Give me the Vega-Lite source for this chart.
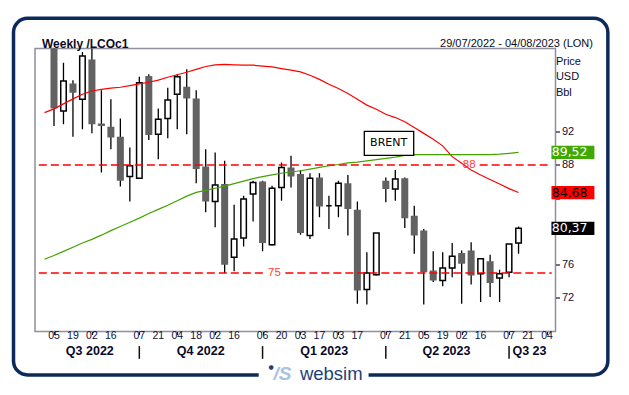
{
  "$schema": "https://vega.github.io/schema/vega-lite/v6.json",
  "width": 520.5,
  "height": 283,
  "autosize": {"type": "none"},
  "padding": {"left": 35, "top": 48.5, "right": 73.5, "bottom": 63.5},
  "background": "white",
  "config": {
    "view": {"stroke": "#8f8fa0", "strokeWidth": 1.5},
    "font": "Liberation Sans",
    "axis": {"labelOverlap": false}
  },
  "datasets": {
    "candles": [
      {"w":1,"date":"2022-08-05","open":103,"high":104,"low":92.7,"close":94.8},
      {"w":2,"date":"2022-08-12","open":94.5,"high":100.3,"low":92.9,"close":98.1},
      {"w":3,"date":"2022-08-19","open":97.8,"high":98.2,"low":91.4,"close":96.7},
      {"w":4,"date":"2022-08-26","open":95.9,"high":101.6,"low":92.3,"close":101.1},
      {"w":5,"date":"2022-09-02","open":100.7,"high":103,"low":91.8,"close":92.9},
      {"w":6,"date":"2022-09-09","open":93.0,"high":97.0,"low":87.1,"close":92.7},
      {"w":7,"date":"2022-09-16","open":92.6,"high":95.9,"low":89.9,"close":91.3},
      {"w":8,"date":"2022-09-23","open":91.4,"high":93.6,"low":85.4,"close":86.1},
      {"w":9,"date":"2022-09-30","open":86.6,"high":90.1,"low":83.6,"close":87.9},
      {"w":10,"date":"2022-10-07","open":86.4,"high":98.6,"low":86.3,"close":97.9},
      {"w":11,"date":"2022-10-14","open":98.7,"high":98.9,"low":91.0,"close":91.6},
      {"w":12,"date":"2022-10-21","open":91.7,"high":94.8,"low":88.7,"close":93.5},
      {"w":13,"date":"2022-10-28","open":93.6,"high":97.3,"low":91.2,"close":95.8},
      {"w":14,"date":"2022-11-04","open":96.5,"high":98.9,"low":92.3,"close":98.6},
      {"w":15,"date":"2022-11-11","open":97.4,"high":99.5,"low":91.7,"close":96.0},
      {"w":16,"date":"2022-11-18","open":96.0,"high":97.0,"low":85.8,"close":87.5},
      {"w":17,"date":"2022-11-25","open":87.8,"high":89.9,"low":82.3,"close":83.6},
      {"w":18,"date":"2022-12-02","open":83.6,"high":89.5,"low":80.5,"close":85.6},
      {"w":19,"date":"2022-12-09","open":85.7,"high":88.5,"low":75.0,"close":76.0},
      {"w":20,"date":"2022-12-16","open":76.9,"high":83.2,"low":75.2,"close":79.1},
      {"w":21,"date":"2022-12-23","open":79.2,"high":84.3,"low":78.2,"close":83.9},
      {"w":22,"date":"2022-12-30","open":84.5,"high":86.1,"low":81.2,"close":85.9},
      {"w":23,"date":"2023-01-06","open":86.0,"high":86.1,"low":77.6,"close":78.6},
      {"w":24,"date":"2023-01-13","open":78.4,"high":85.5,"low":78.3,"close":85.2},
      {"w":25,"date":"2023-01-20","open":85.3,"high":88.3,"low":83.7,"close":87.7},
      {"w":26,"date":"2023-01-27","open":87.7,"high":89.1,"low":85.3,"close":86.6},
      {"w":27,"date":"2023-02-03","open":86.9,"high":87.4,"low":79.6,"close":79.8},
      {"w":28,"date":"2023-02-10","open":79.5,"high":87.0,"low":79.1,"close":86.4},
      {"w":29,"date":"2023-02-17","open":86.5,"high":87.0,"low":81.7,"close":83.0},
      {"w":30,"date":"2023-02-24","open":83.1,"high":84.3,"low":80.3,"close":83.1},
      {"w":31,"date":"2023-03-03","open":83.1,"high":86.1,"low":81.7,"close":85.8},
      {"w":32,"date":"2023-03-10","open":85.8,"high":86.8,"low":79.5,"close":82.7},
      {"w":33,"date":"2023-03-17","open":82.6,"high":83.6,"low":71.3,"close":72.9},
      {"w":34,"date":"2023-03-24","open":73.0,"high":77.5,"low":71.2,"close":75.0},
      {"w":35,"date":"2023-03-31","open":74.8,"high":79.8,"low":74.7,"close":79.8},
      {"w":36,"date":"2023-04-07","open":86.1,"high":86.5,"low":83.5,"close":85.1},
      {"w":37,"date":"2023-04-14","open":85.1,"high":87.4,"low":83.7,"close":86.3},
      {"w":38,"date":"2023-04-21","open":86.4,"high":86.5,"low":80.4,"close":81.6},
      {"w":39,"date":"2023-04-28","open":81.9,"high":83.1,"low":77.3,"close":79.5},
      {"w":40,"date":"2023-05-05","open":80.1,"high":80.3,"low":71.2,"close":75.1},
      {"w":41,"date":"2023-05-12","open":75.3,"high":77.6,"low":73.9,"close":74.1},
      {"w":42,"date":"2023-05-19","open":74.1,"high":77.5,"low":73.4,"close":75.6},
      {"w":43,"date":"2023-05-26","open":75.6,"high":78.6,"low":74.5,"close":77.0},
      {"w":44,"date":"2023-06-02","open":77.4,"high":77.7,"low":71.3,"close":76.1},
      {"w":45,"date":"2023-06-09","open":77.7,"high":78.7,"low":73.6,"close":74.7},
      {"w":46,"date":"2023-06-16","open":74.9,"high":76.8,"low":71.5,"close":76.7},
      {"w":47,"date":"2023-06-23","open":76.4,"high":77.2,"low":72.1,"close":73.8},
      {"w":48,"date":"2023-06-30","open":74.4,"high":75.4,"low":71.5,"close":74.9},
      {"w":49,"date":"2023-07-07","open":75.1,"high":78.5,"low":74.5,"close":78.5},
      {"w":50,"date":"2023-07-14","open":78.6,"high":80.6,"low":77.3,"close":80.37}
    ],
    "ma": [
      {"w":0,"maFast":94.3,"maSlow":76.65},{"w":1,"maFast":94.75,"maSlow":77.1},{"w":2,"maFast":95.35,"maSlow":77.6},
      {"w":3,"maFast":95.95,"maSlow":78.1},{"w":4,"maFast":96.5,"maSlow":78.6},{"w":5,"maFast":96.9,"maSlow":79.05},
      {"w":6,"maFast":97.1,"maSlow":79.55},{"w":7,"maFast":97.25,"maSlow":80.1},{"w":8,"maFast":97.35,"maSlow":80.6},
      {"w":9,"maFast":97.55,"maSlow":81.1},{"w":10,"maFast":97.75,"maSlow":81.6},{"w":11,"maFast":97.95,"maSlow":82.15},
      {"w":12,"maFast":98.2,"maSlow":82.65},{"w":13,"maFast":98.55,"maSlow":83.15},{"w":14,"maFast":98.85,"maSlow":83.7},
      {"w":15,"maFast":99.15,"maSlow":84.25},{"w":16,"maFast":99.5,"maSlow":84.7},{"w":17,"maFast":99.85,"maSlow":84.95},
      {"w":18,"maFast":100.05,"maSlow":85.2},{"w":19,"maFast":100.1,"maSlow":85.45},{"w":20,"maFast":100.05,"maSlow":85.75},
      {"w":21,"maFast":100.0,"maSlow":86.05},{"w":22,"maFast":100.0,"maSlow":86.35},{"w":23,"maFast":99.9,"maSlow":86.6},
      {"w":24,"maFast":99.8,"maSlow":86.8},{"w":25,"maFast":99.6,"maSlow":87.0},{"w":26,"maFast":99.4,"maSlow":87.15},
      {"w":27,"maFast":99.2,"maSlow":87.3},{"w":28,"maFast":98.8,"maSlow":87.5},{"w":29,"maFast":98.3,"maSlow":87.7},
      {"w":30,"maFast":97.7,"maSlow":87.9},{"w":31,"maFast":97.2,"maSlow":88.05},{"w":32,"maFast":96.6,"maSlow":88.25},
      {"w":33,"maFast":95.9,"maSlow":88.35},{"w":34,"maFast":95.2,"maSlow":88.5},{"w":35,"maFast":94.7,"maSlow":88.65},
      {"w":36,"maFast":94.1,"maSlow":88.8},{"w":37,"maFast":93.7,"maSlow":88.95},{"w":38,"maFast":93.2,"maSlow":89.15},
      {"w":39,"maFast":92.5,"maSlow":89.25},{"w":40,"maFast":91.8,"maSlow":89.25},{"w":41,"maFast":91.1,"maSlow":89.25},
      {"w":42,"maFast":90.3,"maSlow":89.25},{"w":43,"maFast":89.0,"maSlow":89.25},{"w":44,"maFast":88.2,"maSlow":89.25},
      {"w":45,"maFast":87.4,"maSlow":89.25},{"w":46,"maFast":86.8,"maSlow":89.25},{"w":47,"maFast":86.25,"maSlow":89.25},
      {"w":48,"maFast":85.7,"maSlow":89.3},{"w":49,"maFast":85.15,"maSlow":89.4},{"w":50,"maFast":84.68,"maSlow":89.52}
    ],
    "xLabels": [
      {"w":1,"day":"05"},{"w":3,"day":"19"},{"w":5,"day":"02"},{"w":7,"day":"16"},
      {"w":10,"day":"07"},{"w":12,"day":"21"},{"w":14,"day":"04"},{"w":16,"day":"18"},{"w":18,"day":"02"},{"w":20,"day":"16"},
      {"w":23,"day":"06"},{"w":25,"day":"20"},{"w":27,"day":"03"},{"w":29,"day":"17"},{"w":31,"day":"03"},{"w":33,"day":"17"},
      {"w":36,"day":"07"},{"w":38,"day":"21"},{"w":40,"day":"05"},{"w":42,"day":"19"},{"w":44,"day":"02"},{"w":46,"day":"16"},
      {"w":49,"day":"07"},{"w":51,"day":"21"},{"w":53,"day":"04"}
    ],
    "levels": [
      {"price":88,"from":-0.6,"to":43.7},
      {"price":88,"from":45.9,"to":53.5},
      {"price":75,"from":-0.6,"to":23.1},
      {"price":75,"from":25.4,"to":53.5}
    ],
    "levelLabels": [
      {"price":88,"w":44.8,"text":"88"},
      {"price":75,"w":24.25,"text":"75"}
    ],
    "lastValues": [
      {"series":"maSlow","value":89.52,"label":"89,52"},
      {"series":"maFast","value":84.68,"label":"84,68"},
      {"series":"close","value":80.37,"label":"80,37"}
    ],
    "quarters": [
      {"q":"Q3 2022","mid":4.78},
      {"q":"Q4 2022","mid":16.47},
      {"q":"Q1 2023","mid":29.5},
      {"q":"Q2 2023","mid":42.4},
      {"q":"Q3 23","mid":51.15}
    ],
    "quarterStarts": [{"w":10},{"w":23},{"w":36},{"w":49}],
    "units": [
      {"text":"Price","y":100.42},
      {"text":"USD","y":98.56},
      {"text":"Bbl","y":96.7}
    ]
  },
  "layer": [
    {
      "data": {"values": [{}]},
      "mark": {"type": "rect", "fill": "white", "fillOpacity": 0, "stroke": "#0e2a5a", "strokeWidth": 3.5, "cornerRadius": 14},
      "encoding": {
        "x": {"datum": -3.27, "type": "quantitative"},
        "x2": {"datum": 59.42},
        "y": {"datum": 105.64, "type": "quantitative"},
        "y2": {"datum": 62.73}
      }
    },
    {
      "data": {"values": [{}]},
      "mark": {"type": "rect", "fill": "white", "stroke": null},
      "encoding": {
        "x": {"datum": 22.59, "type": "quantitative"},
        "x2": {"datum": 34.18},
        "y": {"datum": 63.86, "type": "quantitative"},
        "y2": {"datum": 61.54}
      }
    },
    {
      "data": {"values": [{"t": "websim"}]},
      "mark": {"type": "text", "align": "left", "baseline": "middle", "font": "Liberation Sans", "fontSize": 18.5, "fill": "#1c3f78"},
      "encoding": {
        "x": {"datum": 26.94, "type": "quantitative"},
        "y": {"datum": 62.85, "type": "quantitative"},
        "text": {"field": "t"}
      }
    },
    {
      "data": {"values": [{"t": "/S"}]},
      "mark": {"type": "text", "align": "left", "baseline": "middle", "font": "Liberation Sans", "fontSize": 19, "fontStyle": "italic", "fontWeight": "bold", "fill": "#a9c2e2"},
      "encoding": {
        "x": {"datum": 24.15, "type": "quantitative"},
        "y": {"datum": 62.85, "type": "quantitative"},
        "text": {"field": "t"}
      }
    },
    {
      "data": {"values": [{"t": "●"}]},
      "mark": {"type": "text", "align": "center", "baseline": "middle", "font": "DejaVu Sans", "fontSize": 6, "fill": "#1c3f78"},
      "encoding": {
        "x": {"datum": 23.9, "type": "quantitative"},
        "y": {"datum": 63.74, "type": "quantitative"},
        "text": {"field": "t"}
      }
    },
    {
      "data": {"values": [{"t": "Weekly /LCOc1"}]},
      "mark": {"type": "text", "align": "left", "baseline": "middle", "font": "Liberation Sans", "fontSize": 12, "fontWeight": "bold", "fill": "#0b0b20"},
      "encoding": {
        "x": {"datum": -0.27, "type": "quantitative"},
        "y": {"datum": 102.6, "type": "quantitative"},
        "text": {"field": "t"}
      }
    },
    {
      "data": {"values": [{"t": "29/07/2022 - 04/08/2023 (LON)"}]},
      "mark": {"type": "text", "align": "right", "baseline": "middle", "font": "Liberation Sans", "fontSize": 11, "fill": "#0b0b20"},
      "encoding": {
        "x": {"datum": 57.85, "type": "quantitative"},
        "y": {"datum": 102.6, "type": "quantitative"},
        "text": {"field": "t"}
      }
    },
    {
      "data": {"name": "units"},
      "mark": {"type": "text", "align": "left", "baseline": "middle", "font": "Liberation Sans", "fontSize": 11, "fill": "#0b0b30"},
      "encoding": {
        "x": {"datum": 53.94, "type": "quantitative"},
        "y": {"field": "y", "type": "quantitative"},
        "text": {"field": "text"}
      }
    },
    {
      "data": {"name": "candles"},
      "mark": {"type": "rule", "color": "#000000", "strokeWidth": 1.3, "clip": true},
      "encoding": {
        "x": {
          "field": "w", "type": "quantitative",
          "scale": {"domain": [-0.476, 53.37], "nice": false, "zero": false},
          "axis": {
            "title": null, "grid": false, "domain": false, "labels": false,
            "values": [1,3,5,7,10,12,14,16,18,20,23,25,27,29,31,33,36,38,40,42,44,46,49,51,53],
            "tickSize": 3, "tickColor": "#1a1a30", "tickWidth": 1.2
          }
        },
        "y": {
          "field": "low", "type": "quantitative",
          "scale": {"domain": [68.56, 101.41], "nice": false, "zero": false},
          "axis": {
            "orient": "right", "title": null, "grid": false, "domain": false,
            "values": [72,76,80,84,88,92],
            "labelExpr": "datum.value == 80 || datum.value == 84 ? '' : datum.label",
            "tickSize": 4, "tickColor": "#1a1a30", "tickWidth": 1.2,
            "labelFont": "Liberation Sans", "labelFontSize": 11, "labelColor": "#101035",
            "labelPadding": 2
          }
        },
        "y2": {"field": "high"}
      }
    },
    {
      "data": {"name": "candles"},
      "transform": [{"filter": "datum.close < datum.open"}],
      "mark": {"type": "bar", "width": 7, "fill": "#626262", "clip": true},
      "encoding": {
        "x": {"field": "w", "type": "quantitative"},
        "y": {"field": "open", "type": "quantitative"},
        "y2": {"field": "close"}
      }
    },
    {
      "data": {"name": "candles"},
      "transform": [{"filter": "datum.close >= datum.open"}],
      "mark": {"type": "bar", "width": 5.5, "fill": "white", "stroke": "#000000", "strokeWidth": 1.5, "clip": true},
      "encoding": {
        "x": {"field": "w", "type": "quantitative"},
        "y": {"field": "open", "type": "quantitative"},
        "y2": {"field": "close"}
      }
    },
    {
      "data": {"name": "ma"},
      "mark": {"type": "line", "color": "#ff0000", "strokeWidth": 1.2, "clip": true},
      "encoding": {
        "x": {"field": "w", "type": "quantitative"},
        "y": {"field": "maFast", "type": "quantitative"}
      }
    },
    {
      "data": {"name": "ma"},
      "mark": {"type": "line", "color": "#44a300", "strokeWidth": 1.2, "clip": true},
      "encoding": {
        "x": {"field": "w", "type": "quantitative"},
        "y": {"field": "maSlow", "type": "quantitative"}
      }
    },
    {
      "data": {"name": "levels"},
      "mark": {"type": "rule", "color": "#ff0000", "strokeWidth": 1.5, "strokeDash": [8, 4], "clip": true},
      "encoding": {
        "x": {"field": "from", "type": "quantitative"},
        "x2": {"field": "to"},
        "y": {"field": "price", "type": "quantitative"}
      }
    },
    {
      "data": {"name": "levelLabels"},
      "mark": {"type": "text", "align": "center", "baseline": "middle", "font": "Liberation Sans", "fontSize": 11.5, "fill": "#ff4030"},
      "encoding": {
        "x": {"field": "w", "type": "quantitative"},
        "y": {"field": "price", "type": "quantitative"},
        "text": {"field": "text"}
      }
    },
    {
      "data": {"values": [{}]},
      "mark": {"type": "rect", "fill": "white", "stroke": "#000000", "strokeWidth": 1.3},
      "encoding": {
        "x": {"datum": 33.73, "type": "quantitative"},
        "x2": {"datum": 38.94},
        "y": {"datum": 92.03, "type": "quantitative"},
        "y2": {"datum": 89.16}
      }
    },
    {
      "data": {"values": [{"t": "BRENT"}]},
      "mark": {"type": "text", "align": "center", "baseline": "middle", "font": "DejaVu Sans", "fontSize": 11, "fill": "#000000"},
      "encoding": {
        "x": {"datum": 36.3, "type": "quantitative"},
        "y": {"datum": 90.7, "type": "quantitative"},
        "text": {"field": "t"}
      }
    },
    {
      "data": {"name": "lastValues"},
      "mark": {"type": "bar", "orient": "horizontal", "height": 13.3},
      "encoding": {
        "x": {"datum": 53.47, "type": "quantitative"},
        "x2": {"datum": 58.0},
        "y": {"field": "value", "type": "quantitative"},
        "color": {
          "field": "series", "type": "nominal", "legend": null,
          "scale": {"domain": ["maSlow", "maFast", "close"], "range": ["#40a800", "#ff0000", "#000000"]}
        }
      }
    },
    {
      "data": {"name": "lastValues"},
      "mark": {"type": "text", "align": "left", "baseline": "middle", "font": "DejaVu Sans", "fontSize": 12.5},
      "encoding": {
        "x": {"datum": 53.5, "type": "quantitative"},
        "y": {"field": "value", "type": "quantitative"},
        "text": {"field": "label"},
        "color": {"condition": {"test": "datum.series === 'maFast'", "value": "#000000"}, "value": "#ffffff"}
      }
    },
    {
      "data": {"name": "xLabels"},
      "mark": {"type": "text", "align": "center", "baseline": "middle", "font": "Liberation Sans", "fontSize": 10.5, "fill": "#101035"},
      "encoding": {
        "x": {"field": "w", "type": "quantitative"},
        "y": {"datum": 67.42, "type": "quantitative"},
        "text": {"field": "day"}
      }
    },
    {
      "data": {"name": "quarterStarts"},
      "mark": {"type": "rule", "color": "#111111", "strokeWidth": 1.5},
      "encoding": {
        "x": {"field": "w", "type": "quantitative"},
        "y": {"datum": 66.2, "type": "quantitative"},
        "y2": {"datum": 64.67}
      }
    },
    {
      "data": {"name": "quarters"},
      "mark": {"type": "text", "align": "center", "baseline": "middle", "font": "Liberation Sans", "fontSize": 12.5, "fontWeight": "bold", "fill": "#0a0a28"},
      "encoding": {
        "x": {"field": "mid", "type": "quantitative"},
        "y": {"datum": 65.62, "type": "quantitative"},
        "text": {"field": "q"}
      }
    }
  ]
}
